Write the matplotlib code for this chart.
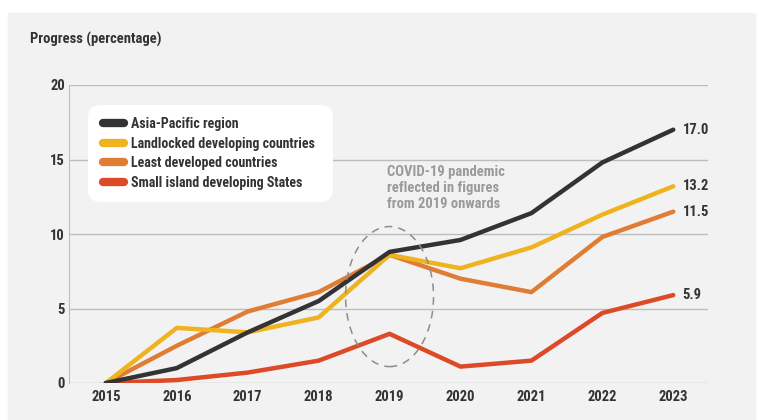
import matplotlib
matplotlib.use("Agg")
from matplotlib import pyplot as plt
from matplotlib import font_manager
from matplotlib.patches import Rectangle, Ellipse, FancyBboxPatch
from matplotlib.lines import Line2D

years = [2015, 2016, 2017, 2018, 2019, 2020, 2021, 2022, 2023]
asia_pacific = [0, 1.0, 3.4, 5.5, 8.8, 9.6, 11.4, 14.8, 17.0]
landlocked = [0, 3.7, 3.4, 4.4, 8.6, 7.7, 9.1, 11.3, 13.2]
least_developed = [0, 2.5, 4.8, 6.1, 8.6, 7.0, 6.1, 9.8, 11.5]
small_island = [0, 0.2, 0.7, 1.5, 3.3, 1.1, 1.5, 4.7, 5.9]

series_names = ["Asia-Pacific region", "Landlocked developing countries",
                "Least developed countries", "Small island developing States"]
series_colors = ["#333333", "#efb320", "#e07d35", "#dc4a28"]
y_ticks = [0, 5, 10, 15, 20]

# condensed font if there is one, otherwise Roboto
installed = {f.name for f in font_manager.fontManager.ttflist}
families = [n for n in ["Roboto Condensed", "Liberation Sans Narrow"] if n in installed]
plt.rcParams["font.family"] = families + ["Roboto", "DejaVu Sans"]
TEXT = "#333333"
FS = 10

fig = plt.figure(figsize=(7.7, 4.2), dpi=100)
fig.patch.set_facecolor("white")
# light grey panel behind the chart
fig.patches.append(Rectangle((8 / 770, 0), 747 / 770, 1 - 13 / 420,
                             transform=fig.transFigure, color="#f2f2f3", zorder=-5))

ax = fig.add_axes([69 / 770, 1 - 383 / 420, (708 - 69) / 770, (383 - 85) / 420])
ax.set_facecolor("none")
ax.set_zorder(2)

all_series = [asia_pacific, landlocked, least_developed, small_island]
# draw back to front, asia-pacific on top
for vals, col, z in zip(all_series, series_colors, [6, 5, 4, 3]):
    ax.plot(years, vals, color=col, lw=3.2, solid_capstyle="round",
            solid_joinstyle="round", zorder=z)
    ax.text(years[-1] + 0.13, vals[-1], f"{vals[-1]:.1f}", fontsize=FS + 0.5,
            fontweight="bold", color=TEXT, va="center", ha="left")

ax.set_xlim(2014.48, 2023.49)
ax.set_ylim(0, 20)
ax.set_yticks(y_ticks)
ax.set_xticks(years)
ax.tick_params(length=0, labelsize=FS + 0.5, colors=TEXT)
ax.tick_params(axis="x", pad=5)
ax.tick_params(axis="y", pad=3)
for lab in ax.get_xticklabels() + ax.get_yticklabels():
    lab.set_fontweight("bold")
ax.grid(axis="y", color="#bdbdbd", lw=1)
ax.set_axisbelow(True)
for s in ["top", "right", "bottom"]:
    ax.spines[s].set_visible(False)
ax.spines["left"].set_color("#bdbdbd")
ax.spines["left"].set_zorder(0)

# covid ellipse and note
ax.add_patch(Ellipse((2019, 5.8), 1.24, 9.4, fill=False, ls=(0, (5, 4)),
                     ec="#8c8c8c", lw=1.1, zorder=7))
ax.text(2018.97, 14.6, "COVID-19 pandemic\nreflected in figures\nfrom 2019 onwards",
        fontsize=FS + 0.5, fontweight="bold", color="#9a9a9a", ha="left", va="top",
        linespacing=1.15)

# legend box, rounded white panel (in inches so corners stay round)
fig.patches.append(FancyBboxPatch((0.88, 2.18), 2.45, 0.97,
                                  boxstyle="round,pad=0,rounding_size=0.13",
                                  transform=fig.dpi_scale_trans,
                                  fc="white", ec="none", zorder=3))
handles = [Line2D([0], [0], color=c, lw=6, solid_capstyle="round") for c in series_colors]
leg = fig.legend(handles, series_names, loc="upper left",
                 bbox_to_anchor=(1.03 / 7.7, 3.03 / 4.2), frameon=False, fontsize=FS,
                 handlelength=1.5, handletextpad=0.5, labelspacing=0.4,
                 borderaxespad=0, borderpad=0)
leg.set_zorder(9)
for t in leg.get_texts():
    t.set_fontweight("bold")
    t.set_color(TEXT)

fig.text(30 / 770, 1 - 39 / 420, "Progress (percentage)", fontsize=FS + 0.5,
         fontweight="bold", color=TEXT, va="center", ha="left")

fig.savefig("out.png", dpi=100)
